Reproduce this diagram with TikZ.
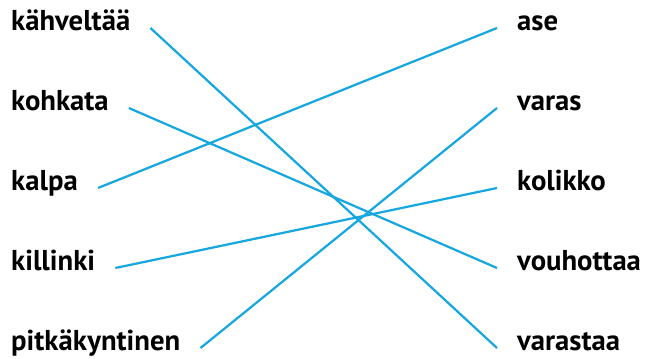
\documentclass[tikz,border=0pt]{standalone}
\usepackage{fontspec}
\setmainfont{PT Sans}
\usepackage{xcolor}
\definecolor{linkblue}{RGB}{22,166,224}

\begin{document}
\begin{tikzpicture}[
  x=0.03cm, y=-0.03cm,
  word/.style={anchor=mid west,inner xsep=0.6cm,inner ysep=0pt,font=\fontsize{24.5}{28}\selectfont\bfseries},
  rword/.style={word,anchor=mid west},
  link/.style={linkblue,line width=1.9pt}
]
  \useasboundingbox (0,0) rectangle (646,358);
  % left column
  \node[word] (kahveltaa) at (-9,28) {kähveltää};
  \node[word] (kohkata) at (-9,108) {kohkata};
  \node[word] (kalpa) at (-9,188) {kalpa};
  \node[word] (killinki) at (-9,268) {killinki};
  \node[word] (pitkakyntinen) at (-9,348) {pitkäkyntinen};
  % right column
  \node[rword] (ase) at (497,28) {ase};
  \node[rword] (varas) at (497,108) {varas};
  \node[rword] (kolikko) at (497,188) {kolikko};
  \node[rword] (vouhottaa) at (497,268) {vouhottaa};
  \node[rword] (varastaa) at (497,348) {varastaa};
  % pairs
  \draw[link] (kahveltaa.mid east) -- (varastaa.mid west);
  \draw[link] (kohkata.mid east) -- (vouhottaa.mid west);
  \draw[link] (kalpa.mid east) -- (ase.mid west);
  \draw[link] (killinki.mid east) -- (kolikko.mid west);
  \draw[link] (pitkakyntinen.mid east) -- (varas.mid west);
\end{tikzpicture}
\end{document}
